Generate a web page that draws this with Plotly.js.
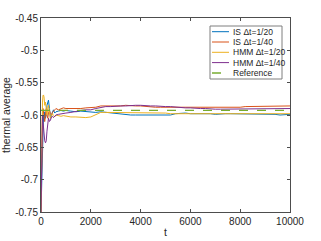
<!DOCTYPE html>
<html>
<head>
<meta charset="utf-8">
<script src="https://cdn.plot.ly/plotly-3.0.1.min.js"></script>
<style>html,body{margin:0;padding:0;background:#fff;}#plot{width:321px;height:241px;}</style>
</head>
<body>
<div id="plot"></div>
<script>
const t = [0,20,40,60,80,100,120,150,180,210,240,270,300,340,380,420,460,500,550,600,700,800,900,1000,1200,1400,1600,1800,2000,2200,2400,2600,2800,3000,3200,3400,3600,3800,4000,4200,4400,4600,4800,5000,5200,5400,5600,5800,6000,6200,6400,6600,6800,7000,7200,7400,7600,7800,8000,8200,8400,8600,8800,9000,9200,9400,9600,9800,10000];
const isDt20 = [-0.75,-0.72,-0.70,-0.64,-0.61,-0.60,-0.61,-0.595,-0.605,-0.60,-0.585,-0.578,-0.577,-0.59,-0.605,-0.60,-0.595,-0.592,-0.597,-0.595,-0.594,-0.593,-0.594,-0.593,-0.594,-0.595,-0.594,-0.595,-0.596,-0.596,-0.595,-0.596,-0.596,-0.597,-0.598,-0.599,-0.600,-0.600,-0.600,-0.599,-0.600,-0.600,-0.600,-0.599,-0.600,-0.598,-0.597,-0.597,-0.598,-0.598,-0.597,-0.598,-0.598,-0.599,-0.598,-0.598,-0.598,-0.598,-0.598,-0.599,-0.599,-0.599,-0.598,-0.599,-0.599,-0.599,-0.600,-0.599,-0.599];
const isDt40 = [-0.75,-0.68,-0.62,-0.60,-0.59,-0.60,-0.595,-0.61,-0.60,-0.59,-0.60,-0.605,-0.597,-0.593,-0.598,-0.60,-0.596,-0.594,-0.592,-0.590,-0.592,-0.591,-0.589,-0.590,-0.590,-0.591,-0.590,-0.589,-0.589,-0.588,-0.586,-0.586,-0.587,-0.586,-0.586,-0.585,-0.586,-0.586,-0.586,-0.587,-0.587,-0.588,-0.588,-0.588,-0.588,-0.589,-0.589,-0.589,-0.588,-0.589,-0.589,-0.588,-0.588,-0.589,-0.589,-0.588,-0.588,-0.588,-0.588,-0.587,-0.587,-0.587,-0.587,-0.587,-0.587,-0.586,-0.586,-0.586,-0.586];
const hmmDt20 = [-0.75,-0.66,-0.60,-0.58,-0.570,-0.569,-0.572,-0.585,-0.58,-0.595,-0.60,-0.59,-0.585,-0.597,-0.605,-0.60,-0.598,-0.601,-0.603,-0.600,-0.601,-0.602,-0.601,-0.602,-0.603,-0.603,-0.604,-0.604,-0.603,-0.600,-0.596,-0.596,-0.596,-0.596,-0.596,-0.596,-0.597,-0.597,-0.597,-0.597,-0.596,-0.596,-0.597,-0.597,-0.598,-0.598,-0.599,-0.599,-0.599,-0.599,-0.598,-0.598,-0.598,-0.598,-0.599,-0.599,-0.599,-0.598,-0.598,-0.599,-0.599,-0.598,-0.598,-0.598,-0.598,-0.598,-0.598,-0.598,-0.598];
const hmmDt40 = [-0.75,-0.70,-0.63,-0.60,-0.61,-0.625,-0.635,-0.640,-0.643,-0.640,-0.625,-0.612,-0.605,-0.610,-0.608,-0.603,-0.602,-0.604,-0.602,-0.600,-0.599,-0.598,-0.597,-0.597,-0.596,-0.594,-0.593,-0.592,-0.592,-0.590,-0.588,-0.587,-0.587,-0.586,-0.586,-0.586,-0.585,-0.585,-0.585,-0.586,-0.586,-0.586,-0.587,-0.587,-0.587,-0.588,-0.588,-0.589,-0.589,-0.590,-0.590,-0.590,-0.591,-0.591,-0.591,-0.591,-0.591,-0.591,-0.591,-0.591,-0.591,-0.591,-0.591,-0.591,-0.591,-0.590,-0.590,-0.590,-0.590];
const refT = [0, 10000];
const refV = [-0.593, -0.593];
const names = ['IS \u0394t=1/20','IS \u0394t=1/40','HMM \u0394t=1/20','HMM \u0394t=1/40','Reference'];
const colors = ['#0072BD','#D95319','#EDB120','#7E2F8E','#77AC30'];
const xTicks = [0,2000,4000,6000,8000,10000];
const yTicks = [-0.75,-0.7,-0.65,-0.6,-0.55,-0.5,-0.45];

const FONT = 'Liberation Sans, Arial, sans-serif';
const series = [isDt20, isDt40, hmmDt20, hmmDt40];
const dashes = ['solid','solid','solid','solid','dash'];
const data = series.map((y,i)=>({x:t,y:y,type:'scatter',mode:'lines',name:names[i],line:{color:colors[i],width:1}}));
data.push({x:refT,y:refV,type:'scatter',mode:'lines',name:names[4],line:{color:colors[4],width:1.3,dash:'dash'}});

// plot area in pixels (for the hand-built legend)
const L = 41, R = 290, T = 18, B = 212;
const px = x => (x - L) / (R - L);
const py = y => (B - y) / (B - T);

const shapes = [{type:'rect',xref:'paper',yref:'paper',x0:px(210),x1:px(282),y0:py(79),y1:py(26),line:{color:'#7f7f7f',width:1},fillcolor:'#ffffff',layer:'above'}];
const annotations = [];
const rowY = [31.7, 42, 52.3, 62.6, 73];
names.forEach((n,i)=>{
  shapes.push({type:'line',xref:'paper',yref:'paper',x0:px(212),x1:px(229),y0:py(rowY[i]),y1:py(rowY[i]),line:{color:colors[i],width:i===4?1.5:1,dash:dashes[i]},layer:'above'});
  annotations.push({xref:'paper',yref:'paper',x:px(230.5),y:py(rowY[i]),xanchor:'left',yanchor:'middle',text:n,showarrow:false,font:{family:FONT,size:8.5,color:'#262626'}});
});

const axisCommon = {showline:true,mirror:'ticks',linecolor:'#4d4d4d',linewidth:1,ticks:'inside',ticklen:3,tickcolor:'#4d4d4d',showgrid:false,zeroline:false,tickfont:{family:FONT,size:10,color:'#262626'}};
const layout = {
  width:321,height:241,
  margin:{l:L,r:321-R,t:T,b:241-B},
  paper_bgcolor:'#fff',plot_bgcolor:'#fff',
  showlegend:false,
  shapes:shapes,
  annotations:annotations,
  xaxis:Object.assign({},axisCommon,{range:[0,10000],tickvals:xTicks,ticktext:xTicks.map(String),title:{text:'t',font:{family:FONT,size:10.5,color:'#262626'},standoff:2}}),
  yaxis:Object.assign({},axisCommon,{range:[-0.75,-0.45],tickvals:yTicks,ticktext:yTicks.map(v=>String(v)),title:{text:'thermal average',font:{family:FONT,size:10.5,color:'#262626'},standoff:4}})
};
Plotly.newPlot('plot',data,layout,{staticPlot:true,displayModeBar:false});
</script>
</body>
</html>
